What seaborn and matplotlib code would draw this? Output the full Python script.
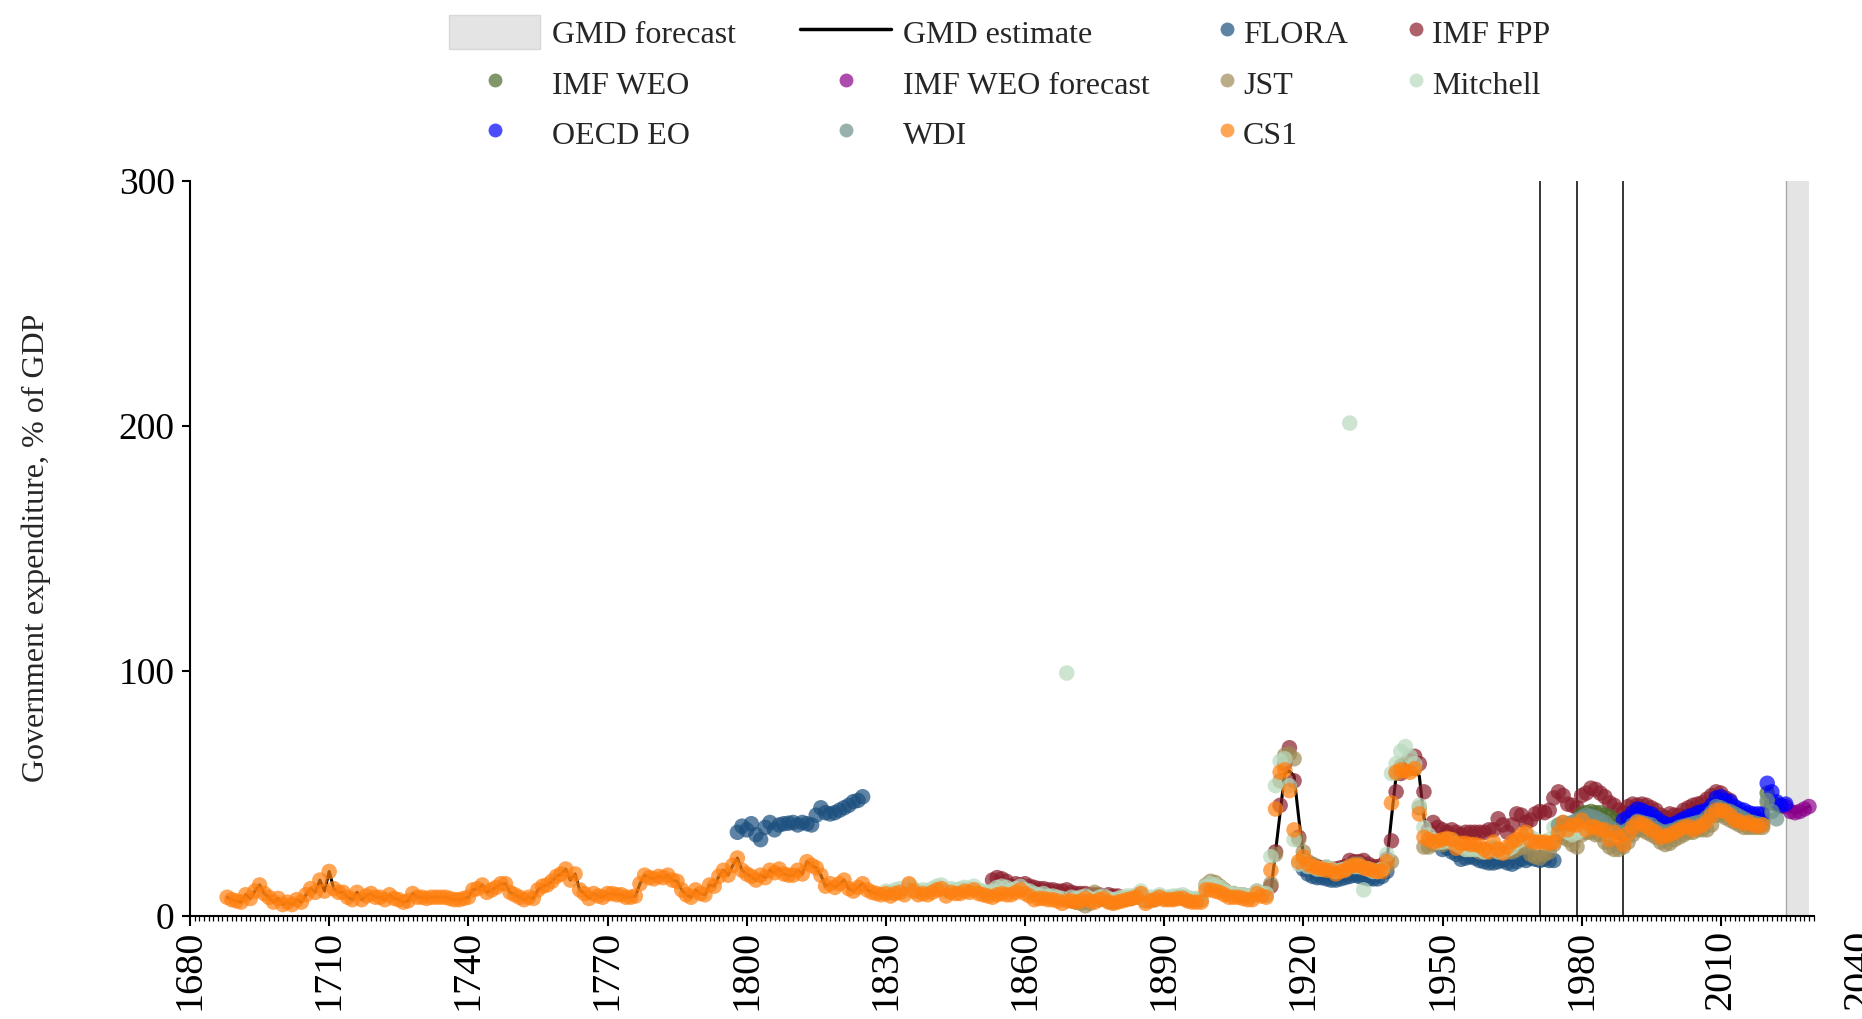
import numpy as np
import pandas as pd
import matplotlib
matplotlib.use("Agg")
import matplotlib.pyplot as plt
import matplotlib.patches as mpatches
from matplotlib.lines import Line2D
from matplotlib.ticker import FixedLocator
import seaborn as sns

# ---- data: government expenditure, % of GDP ----
cs1_years = np.arange(1688, 2020)
cs1_values = [
    7.5, 6.5,
    6, 5.5, 8.5, 7, 10, 12.5, 9, 7.5, 5.5, 7,
    4.5, 5.5, 4.5, 6.5, 5.5, 8.5, 11, 9.5, 14.5, 10,
    18, 11, 9.5, 9.5, 7.5, 6.5, 9.5, 6.5, 8, 9,
    7.5, 7.5, 6.5, 8.5, 7, 6.5, 5.5, 6, 9, 7.5,
    7.5, 7, 7.5, 7.5, 7.5, 7.5, 7, 6.5, 6.5, 7,
    7.5, 10.5, 11, 12.5, 9.5, 10.5, 11.5, 13, 13, 9.5,
    8.5, 7.5, 6.5, 7.5, 7, 10.5, 12, 12.5, 14, 16,
    17, 19, 14.5, 17, 10.5, 9, 7, 9, 8, 7.5,
    9, 9, 8.5, 8.5, 7.5, 7.5, 8, 13, 16.5, 15.5,
    15, 16, 15.5, 16.5, 14.5, 14, 10.5, 8.5, 7.5, 10.5,
    9, 8.5, 12.5, 12, 16, 18.5, 16.5, 20.5, 23.5, 18.5,
    17, 16, 14.5, 16.5, 15.5, 18.5, 17.5, 19, 17, 16.5,
    16.5, 18.5, 17, 22, 20.5, 19.5, 16.5, 12, 13, 11.5,
    13, 14.5, 11, 10, 11.5, 13, 10.5, 9.5, 9, 8.5,
    9, 8, 9, 9.5, 8.5, 13, 10, 8.5, 9, 8.5,
    9.5, 10.5, 11, 8, 9.5, 9, 9, 10, 9.5, 10.5,
    9, 8.5, 8, 7.5, 8.5, 9, 8.5, 8.5, 9.5, 10.5,
    9, 8, 6.5, 7, 7, 6.5, 6.5, 6, 5, 6,
    6, 5.5, 6, 7, 6, 5.5, 6.5, 7, 5.5, 5,
    5.5, 6, 6.5, 7, 7.5, 9, 5, 6, 6.5, 7.5,
    6.5, 6.5, 6.5, 7, 7, 6, 5.5, 5.5, 5.5, 10.5,
    10.5, 10, 9.5, 8.5, 7.5, 7.5, 7.5, 7, 6.5, 6.5,
    9, 8, 7.5, 18.5, 43.5, 58.5, 59.5, 51, 35, 22,
    24, 21, 20, 19.5, 19, 18.5, 18.5, 17, 18, 18.5,
    20, 20.5, 20.5, 19.5, 19, 18.5, 18, 18, 22, 46,
    58.5, 59.5, 59, 58.5, 60, 41.5, 32, 31, 30, 30.5,
    31, 31.5, 31, 27.5, 29.5, 29.5, 29, 29, 28.5, 27,
    26, 30, 27, 25.5, 28, 30, 31, 33, 34, 30.5,
    30, 30, 30, 29.5, 30, 34, 38, 35, 37, 37,
    39, 35, 36.5, 36, 35, 35, 31, 34, 32, 29,
    33.5, 36, 38, 37.5, 36.5, 35, 34, 32, 32.5, 33,
    34, 35, 36, 36.5, 35, 36, 37, 38.5, 41, 43,
    43, 42.5, 41, 39, 38.5, 37.5, 38, 37, 36.5, 37,
]

# GMD estimate follows CS1 until 1912, then its own path
gmd_late = [
    10, 26, 42, 58, 59, 57, 40,
    25, 21, 20, 19, 18.5, 18.5, 18, 17, 17.5, 18,
    19, 19.5, 19.5, 18.5, 18, 17.5, 17.5, 17.5, 22, 40,
    57, 58.5, 59, 59.5, 59, 57, 40, 32, 31, 30.5,
    30, 31, 31, 29, 29, 29, 29, 29, 28.5, 28,
    28, 29.5, 28, 27.5, 28, 29.5, 30, 32, 32, 31,
    30.5, 30, 30, 30.5, 33, 35, 37, 35.5, 36, 37,
    38.5, 37, 37, 36.5, 36, 35, 33, 33, 31.5, 31,
    33, 35.5, 37, 37, 36.5, 36, 35, 33.5, 33, 33,
    34, 35, 36, 37, 37, 38, 38.5, 39.5, 41.5, 44,
    43.5, 42.5, 42, 40.5, 39.5, 39, 38.5, 38, 38, 38,
    49, 46, 44, 44.5, 44, 42.5, 42, 42.5, 43.5, 44.5,
]
gmd_years = np.arange(1688, 2030)
gmd_values = cs1_values[:1913 - 1688] + gmd_late

flora_years = list(range(1798, 1826)) + list(range(1920, 1939)) + list(range(1950, 1975))
flora_values = [
    34, 36.5, 35, 37.5, 33, 31, 36, 38, 35, 37,
    37.5, 37.7, 38, 37, 38, 37.5, 37, 41, 44, 42,
    41.5, 42, 43, 44, 45, 46.5, 47, 48.5,
    19, 17, 16, 15.5, 15.5, 15, 14.5, 14.5, 15, 15.5,
    16, 16.5, 16, 15.5, 15, 15, 15, 16, 18,
    27, 27.5, 26, 25, 23, 23.5, 24, 23.5, 22.5, 22,
    21.5, 21.5, 22, 22.5, 21.5, 21, 22, 23, 22.5, 23.5,
    23, 22.5, 23, 22.5, 22.5,
]

fpp_years = list(range(1853, 1881)) + list(range(1913, 2013))
fpp_values = [
    14.5, 15.5, 15, 14, 12, 13, 12.5, 13, 12, 11.5,
    11, 11, 10.5, 10.5, 10, 10, 10.5, 9.5, 9, 9,
    9, 8.5, 8.5, 8.5, 8, 8.5, 8, 8,
    12, 26, 45, 62, 68.5, 55, 32,
    22, 21, 20.5, 20, 19.5, 19.5, 19, 19, 19.5, 20,
    22.5, 22, 22, 22.5, 21, 20, 20, 20.5, 23, 30.5,
    50.5, 58, 62, 63, 65, 62, 50.5, 35, 38, 36,
    35, 34, 35, 34, 33, 34, 34, 34, 34, 34,
    35, 35, 39.5, 37, 34, 37, 41.5, 41, 38, 39,
    41.5, 42.5, 42, 43, 48, 50.5, 49, 45.5, 45, 44,
    49, 50, 52, 51.5, 50, 48.5, 46, 45, 43, 42,
    44.5, 45.5, 45, 45.5, 45, 44, 43, 41, 40, 41.5,
    41, 41, 43, 44, 45, 45.5, 46, 47.5, 49, 50.5,
    50, 48, 47,
]

weo_years = np.arange(1980, 2024)
weo_values = [
    41.5, 42, 42.5, 42, 42, 41, 40.5, 39, 37, 36.5,
    38.5, 40, 42, 42, 41.5, 41, 39.5, 38, 37, 36.5,
    36.5, 37.5, 38.5, 39.5, 40, 41, 41, 41, 43, 46.5,
    46.5, 44.5, 44, 42.5, 41.5, 40.5, 39.5, 39, 39, 39,
    50, 46, 45.5, 44.5,
]

weo_fc_years = np.arange(2024, 2030)
weo_fc_values = [44.5, 42.5, 42, 42.5, 43.5, 44.5]

jst_years = np.arange(1870, 2021)
jst_values = [
    6, 5.5, 5, 4, 5, 9.5, 6.5, 7, 6, 5.5,
    6, 6.5, 7, 7, 7.5, 8.5, 6, 6.5, 6.5, 7.5,
    7, 7, 7, 7.5, 7.5, 6.5, 6.5, 6.5, 6.5, 12.5,
    14, 13.5, 12, 10.5, 9, 9, 8.5, 8.5, 8, 8,
    10, 9, 8.5, 13, 25, 55, 65.5, 66, 64, 31,
    26, 22, 21, 19.5, 19, 19.5, 19, 18, 18.5, 19,
    20, 21, 21, 19.5, 19, 18.5, 18.5, 19, 20, 22,
    58, 61, 62, 60, 60, 44, 28, 28, 29, 30,
    29, 30, 31, 29, 28, 27, 27, 27, 26, 26,
    27, 27, 27, 26, 26, 26, 27, 28, 28, 25,
    24, 23.5, 25, 26, 29, 33, 32, 31, 29, 28,
    33, 34, 34, 33, 33, 30, 28, 27, 27, 28,
    30, 33, 35, 35, 34, 33, 32, 30, 29, 29.5,
    31, 32, 33, 34, 34, 35, 35, 35, 37, 41,
    41, 40, 39, 38, 37, 36, 36, 36, 36, 36,
    46,
]

mitchell_years = np.arange(1830, 1981)
mitchell_values = [
    10, 9.5, 10.5, 11, 10, 12.5, 11, 10, 10.5, 10,
    11, 12, 12.5, 10, 11, 10.5, 11, 11.5, 11, 12,
    10.5, 10, 9.5, 10, 11.5, 12, 11.5, 10.5, 11, 12,
    10.5, 10, 9, 8.5, 9, 8, 8, 7.5, 7, 99,
    7.5, 7, 7.5, 8, 7, 6.5, 7.5, 8, 7, 6.5,
    7, 7.5, 8, 8, 8.5, 10, 7, 7.5, 7.5, 8.5,
    7.5, 7.5, 8, 8, 8.5, 7.5, 7, 7, 7, 12,
    13, 12.5, 11.5, 10, 9, 9, 8.5, 8.5, 8, 8,
    10, 9, 9, 24, 53, 63, 64, 53, 31, 21,
    22, 20, 20, 19, 19, 20, 19, 18, 18.5, 19,
    201, 20, 20, 10.5, 19, 18, 18, 19, 25, 58,
    62, 67, 69, 65, 62, 45, 36, 33, 31, 30,
    30, 31, 30, 29, 28, 27, 27, 27, 27, 26,
    27, 28, 26, 26, 27, 28, 30, 31, 33, 32,
    31, 30, 30, 31, 36, 37, 36, 34, 33, 34,
    35,
]

oecd_years = np.arange(1989, 2025)
oecd_values = [
    39, 40, 42, 43.5, 43, 42, 41.5, 40, 38.5, 37.5,
    37, 37.5, 38.5, 39.5, 40.5, 41, 42, 42.5, 43, 45,
    48, 48.5, 47, 46.5, 44.5, 43.5, 43, 42, 41.5, 41.5,
    41.5, 54, 50.5, 46.5, 45, 45.5,
]

wdi_years = np.arange(1975, 2023)
wdi_values = [
    37, 38, 37.5, 38, 39, 40, 41, 40.5, 40, 39,
    38, 36, 35, 34, 34, 35, 37, 38.5, 38, 37.5,
    37, 35.5, 34.5, 34, 34.5, 35, 36, 36.5, 37, 37.5,
    38, 38.5, 40, 42, 44.5, 44, 43, 42.5, 41.5, 40.5,
    39.5, 38.5, 38, 37.5, 37, 47, 42.5, 39.5,
]

forecast_span = (2024, 2029)
break_years = [1971, 1979, 1989]

sources = ["FLORA", "IMF FPP", "IMF WEO", "IMF WEO forecast", "JST",
           "Mitchell", "OECD EO", "WDI", "CS1"]
palette = {
    "FLORA": "#1b4f7e",
    "IMF FPP": "#8b1e2d",
    "IMF WEO": "#4d6b2a",
    "IMF WEO forecast": "#8b008b",
    "JST": "#9e8a55",
    "Mitchell": "#b9d9bc",
    "OECD EO": "#0000ff",
    "WDI": "#6e918a",
    "CS1": "#ff7f0e",
}
series = {
    "FLORA": (flora_years, flora_values),
    "IMF FPP": (fpp_years, fpp_values),
    "IMF WEO": (weo_years, weo_values),
    "IMF WEO forecast": (weo_fc_years, weo_fc_values),
    "JST": (jst_years, jst_values),
    "Mitchell": (mitchell_years, mitchell_values),
    "OECD EO": (oecd_years, oecd_values),
    "WDI": (wdi_years, wdi_values),
    "CS1": (cs1_years, cs1_values),
}
df = pd.concat(
    [pd.DataFrame({"year": list(yrs), "value": vals, "source": name})
     for name, (yrs, vals) in series.items()],
    ignore_index=True,
)

# ---- plot ----
sns.set_style("ticks")
plt.rcParams["font.family"] = ["Liberation Serif", "DejaVu Serif"]

fig = plt.figure(figsize=(18.62, 10.19), dpi=100)
ax = fig.add_axes([190 / 1862, 1 - 915.6 / 1019, 1670 / 1862, 735.1 / 1019])

ax.axvspan(*forecast_span, color="#e4e4e4", lw=0, zorder=0)
ax.axvline(forecast_span[0], color="#a8a8a8", lw=1, zorder=0.5)
for yr in break_years:
    ax.axvline(yr, color="black", lw=1.1, zorder=1)

sns.lineplot(x=gmd_years, y=gmd_values, color="black", lw=2.2,
             estimator=None, ax=ax, zorder=2)
sns.scatterplot(data=df, x="year", y="value", hue="source", hue_order=sources,
                palette=palette, s=125, alpha=0.7, linewidth=0, legend=False,
                ax=ax, zorder=3)

ax.set_xlim(1680, 2040)
ax.set_ylim(0, 300)
ax.set_xticks(np.arange(1680, 2041, 30))
ax.xaxis.set_minor_locator(FixedLocator(np.arange(1680, 2031)))
ax.set_yticks([0, 100, 200, 300])
ax.xaxis.get_major_ticks()[-1].tick1line.set_visible(False)

sns.despine(ax=ax)
ax.spines["bottom"].set_bounds(1680, 2030)
for side in ["left", "bottom"]:
    ax.spines[side].set_linewidth(1.5)
    ax.spines[side].set_color("black")

ax.tick_params(axis="x", which="major", length=7, width=1.5, labelsize=29,
               labelrotation=90, pad=3, colors="black")
ax.tick_params(axis="x", which="minor", length=3.5, width=0.9, colors="black")
ax.tick_params(axis="y", which="major", length=6, width=1.5, labelsize=27,
               pad=5, colors="black")

ax.set_xlabel("")
ax.set_ylabel("Government expenditure, % of GDP", fontsize=23)
ax.yaxis.set_label_coords(-0.083, 0.5)

def dot(name):
    return Line2D([], [], marker="o", ls="", markersize=10, markeredgewidth=0,
                  color=palette[name], alpha=0.7)

h1 = [mpatches.Patch(facecolor="#e4e4e4", edgecolor="#d8d8d8"), dot("IMF WEO"), dot("OECD EO"),
      Line2D([], [], color="black", lw=2.5), dot("IMF WEO forecast"), dot("WDI")]
l1 = ["GMD forecast", "IMF WEO", "OECD EO", "GMD estimate", "IMF WEO forecast", "WDI"]
h2 = [dot("FLORA"), dot("JST"), dot("CS1"), dot("IMF FPP"), dot("Mitchell")]
l2 = ["FLORA", "JST", "CS1", "IMF FPP", "Mitchell"]

common = dict(frameon=False, fontsize=23, borderpad=0, borderaxespad=0,
              labelspacing=0.5, handleheight=1.25, handletextpad=0.38,
              columnspacing=2.0, loc="upper left", ncol=2)
fig.legend(h1, l1, handlelength=2.85, bbox_to_anchor=(449 / 1862, 0.985), **common)
fig.legend(h2, l2, handlelength=0.25, bbox_to_anchor=(1223 / 1862, 0.985), **common)

fig.savefig("out.png", dpi=100)
